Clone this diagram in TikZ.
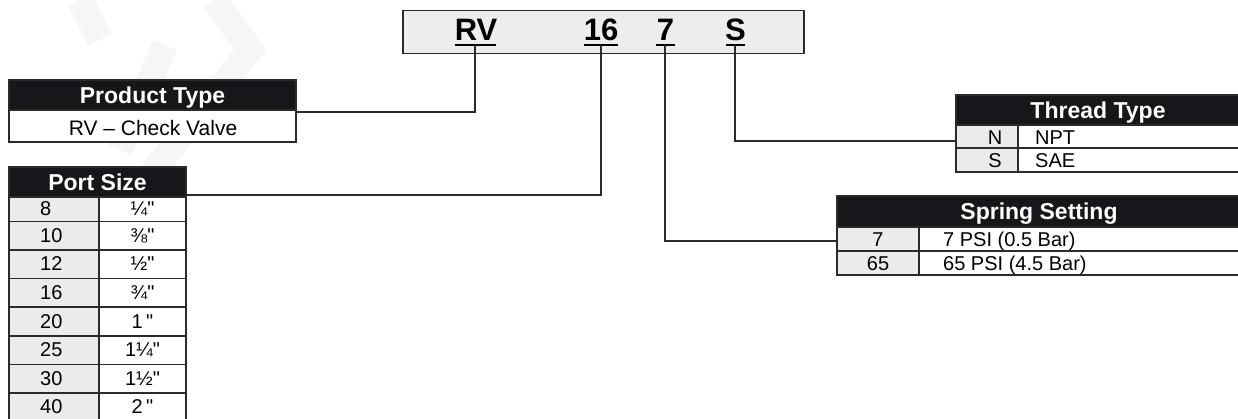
\documentclass[tikz,border=0pt]{standalone}
\usepackage{fontspec}
\newfontfamily\lsans{Liberation Sans}
\definecolor{hdrblack}{HTML}{17171B}
\definecolor{cellgray}{HTML}{EBEBEB}
\definecolor{codegray}{HTML}{EDEDED}
\definecolor{linedark}{HTML}{2A2A2A}
\definecolor{wmark}{HTML}{F6F6F6}
\newcommand{\szBody}{\lsans\fontsize{20}{24}\selectfont}
\newcommand{\szProd}{\lsans\fontsize{21}{25}\selectfont}
\newcommand{\szHead}{\lsans\fontsize{23}{27}\selectfont\bfseries}
\newcommand{\szCode}{\lsans\fontsize{31}{35}\selectfont\bfseries}
\tikzset{
  hdrcell/.style={fill=hdrblack,draw=linedark,line width=1.5pt},
  graycell/.style={fill=cellgray,draw=linedark,line width=1.5pt},
  whitecell/.style={fill=white,draw=linedark,line width=1.5pt},
  headtxt/.style={anchor=base,inner sep=0pt,text=white,font=\szHead},
  bodytxt/.style={anchor=base,inner sep=0pt,text=black,font=\szBody},
  bodyleft/.style={anchor=base west,inner sep=0pt,text=black,font=\szBody},
  codetxt/.style={anchor=base,inner sep=0pt,text=black,font=\szCode},
  uline/.style={draw=black,line width=2pt},
  conn/.style={draw=linedark,line width=1.5pt},
  wm/.style={draw=wmark,line width=26pt,line cap=butt,line join=miter}
}
\begin{document}
\begin{tikzpicture}[x=1pt,y=-1pt]
\useasboundingbox (0,0) rectangle (1238,419);
% faint watermark chevrons
\draw[wm] (80,0) -- (100,40);
\draw[wm] (215,0) -- (250,50) -- (150,175);
\draw[wm] (165,45) -- (120,150);
% code box
\node[draw=linedark,fill=codegray,line width=1.5pt,minimum width=401pt,minimum height=43pt,inner sep=0pt,anchor=north west] (codebox) at (402,10) {};
\node[codetxt] (cRV) at (476,41) {RV};
\node[codetxt] (c16) at (601,41) {16};
\node[codetxt] (c7) at (665.5,41) {7};
\node[codetxt] (cS) at (735.5,41) {S};
\coordinate (uRV) at (475,45);
\coordinate (u16) at (601,45);
\coordinate (u7) at (665,45);
\coordinate (uS) at (735,45);
\draw[uline] (455,45.5) -- (496,45.5);
\draw[uline] (584,45.5) -- (618,45.5);
\draw[uline] (656,45.5) -- (675,45.5);
\draw[uline] (726,45.5) -- (745,45.5);
% Product Type table
\path[hdrcell] (9,80) rectangle (296,110);
\path[whitecell] (9,110) rectangle (296,142);
\node[headtxt] (hProd) at (152.5,103.5) {Product Type};
\node[bodytxt,font=\szProd] (rProd) at (153,136) {RV – Check Valve};
\coordinate (pProd) at (296,112);
% Port Size table
\path[hdrcell] (9,167) rectangle (186,197);
\node[headtxt] (hPort) at (97.5,190.5) {Port Size};
\foreach \ya/\yb/\a/\b [count=\i] in {197/221.5/8/{¼"},221.5/250/10/{⅜"},250/278.5/12/{½"},278.5/307/16/{¾"},307/336/20/{1\,"},336/364.5/25/{1¼"},364.5/393/30/{1½"},393/421.5/40/{2\,"}}{
  \path[graycell] (9,\ya) rectangle (99,\yb);
  \path[whitecell] (99,\ya) rectangle (186,\yb);
  \node[bodyleft] (pa\i) at (40,{(\ya+\yb)/2+6.5}) {\a};
  \node[bodytxt] (pb\i) at (142.5,{(\ya+\yb)/2+6.5}) {\b};
}
\coordinate (pPort) at (186,195);
% Thread Type table
\path[hdrcell] (956,95) rectangle (1245,125);
\node[headtxt] (hThr) at (1098,118.5) {Thread Type};
\path[graycell] (956,125) rectangle (1018,148);
\path[whitecell] (1018,125) rectangle (1245,148);
\path[graycell] (956,148) rectangle (1018,172);
\path[whitecell] (1018,148) rectangle (1245,172);
\node[bodytxt] (tN) at (995,144.5) {N};
\node[bodyleft] (tNPT) at (1035,144.5) {NPT};
\node[bodytxt] (tS) at (995,168) {S};
\node[bodyleft] (tSAE) at (1035,168) {SAE};
\coordinate (pThr) at (956,141);
% Spring Setting table
\path[hdrcell] (837,196) rectangle (1245,227);
\node[headtxt] (hSpr) at (1039,220) {Spring Setting};
\path[graycell] (837,227) rectangle (919,251);
\path[whitecell] (919,227) rectangle (1245,251);
\path[graycell] (837,251) rectangle (919,275);
\path[whitecell] (919,251) rectangle (1245,275);
\node[bodytxt] (s7) at (878,246.5) {7};
\node[bodyleft] (s7t) at (943,246.5) {7 PSI (0.5 Bar)};
\node[bodytxt] (s65) at (878,270.5) {65};
\node[bodyleft] (s65t) at (943,270.5) {65 PSI (4.5 Bar)};
\coordinate (pSpr) at (837,241);
% connectors
\draw[conn] (pProd) -| (uRV);
\draw[conn] (pPort) -| (u16);
\draw[conn] (pSpr) -| (u7);
\draw[conn] (pThr) -| (uS);
\end{tikzpicture}
\end{document}
